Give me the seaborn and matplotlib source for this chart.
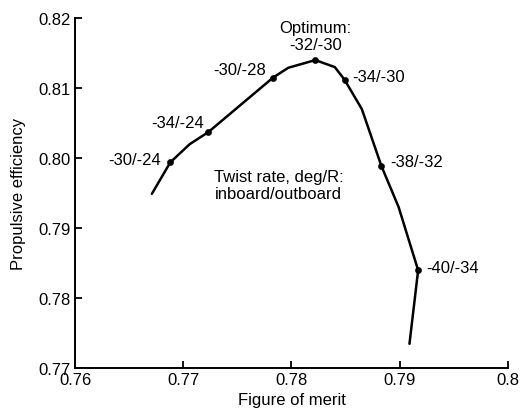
import numpy as np
import pandas as pd
import matplotlib
matplotlib.use("Agg")
import matplotlib.pyplot as plt
import seaborn as sns

# curve
figure_of_merit = [0.7671, 0.7688, 0.7706, 0.7723, 0.7783, 0.7797, 0.7822,
                   0.7840, 0.7849, 0.7865, 0.7883, 0.7899, 0.7917, 0.7909]
prop_efficiency = [0.7949, 0.7994, 0.8020, 0.8037, 0.8115, 0.8129, 0.8140,
                   0.8130, 0.8112, 0.8070, 0.7989, 0.7930, 0.7840, 0.7735]

# labelled twist-rate points
pt_fom = [0.7688, 0.7723, 0.7783, 0.7822, 0.7849, 0.7883, 0.7917]
pt_eff = [0.7994, 0.8037, 0.8115, 0.8140, 0.8112, 0.7989, 0.7840]
pt_labels = ["-30/-24", "-34/-24", "-30/-28", "Optimum:\n-32/-30",
             "-34/-30", "-38/-32", "-40/-34"]

curve = pd.DataFrame({"fom": figure_of_merit, "eff": prop_efficiency})
points = pd.DataFrame({"fom": pt_fom, "eff": pt_eff, "label": pt_labels})

sns.set_style("ticks")
plt.rcParams['font.family'] = ['Liberation Sans', 'DejaVu Sans']
for k in ["text.color", "axes.labelcolor", "xtick.color", "ytick.color",
          "axes.edgecolor"]:
    plt.rcParams[k] = "black"
FS = 12

fig = plt.figure(figsize=(5.21, 4.14), dpi=100)
ax = fig.add_axes([0.144, 0.108, 0.831, 0.846])

sns.lineplot(data=curve, x="fom", y="eff", sort=False, color="black",
             linewidth=1.8, ax=ax)
sns.scatterplot(data=points, x="fom", y="eff", color="black", s=20,
                edgecolor="black", zorder=3, ax=ax)

# label offsets in pixels (dx, dy, ha)
offsets = [(-9, 3, "right"), (-4, 10, "right"), (-7, 8, "right"),
           (0, 24, "center"), (8, 3, "left"), (9, 4, "left"), (8, 3, "left")]
for (x, y, lab), (dx, dy, ha) in zip(zip(pt_fom, pt_eff, pt_labels), offsets):
    ax.annotate(lab, (x, y), xytext=(dx, dy), textcoords="offset pixels",
                ha=ha, va="center", fontsize=FS, linespacing=1.15)

ax.text(0.7788, 0.7962, "Twist rate, deg/R:\ninboard/outboard",
        ha="center", va="center", fontsize=FS, linespacing=1.15)

ax.set_xlim(0.76, 0.80)
ax.set_ylim(0.77, 0.82)
ax.set_xticks([0.76, 0.77, 0.78, 0.79, 0.80])
ax.set_xticklabels(["0.76", "0.77", "0.78", "0.79", "0.8"])
ax.set_yticks([0.77, 0.78, 0.79, 0.80, 0.81, 0.82])
ax.set_yticklabels(["0.77", "0.78", "0.79", "0.80", "0.81", "0.82"])
ax.tick_params(direction="in", length=5, width=1.3, labelsize=FS, pad=3)
ax.set_xlabel("Figure of merit", fontsize=FS, labelpad=3)
ax.set_ylabel("Propulsive efficiency", fontsize=FS, labelpad=9)
for s in ["left", "bottom"]:
    ax.spines[s].set_linewidth(1.4)
sns.despine(ax=ax)

fig.savefig("out.png", dpi=100)
